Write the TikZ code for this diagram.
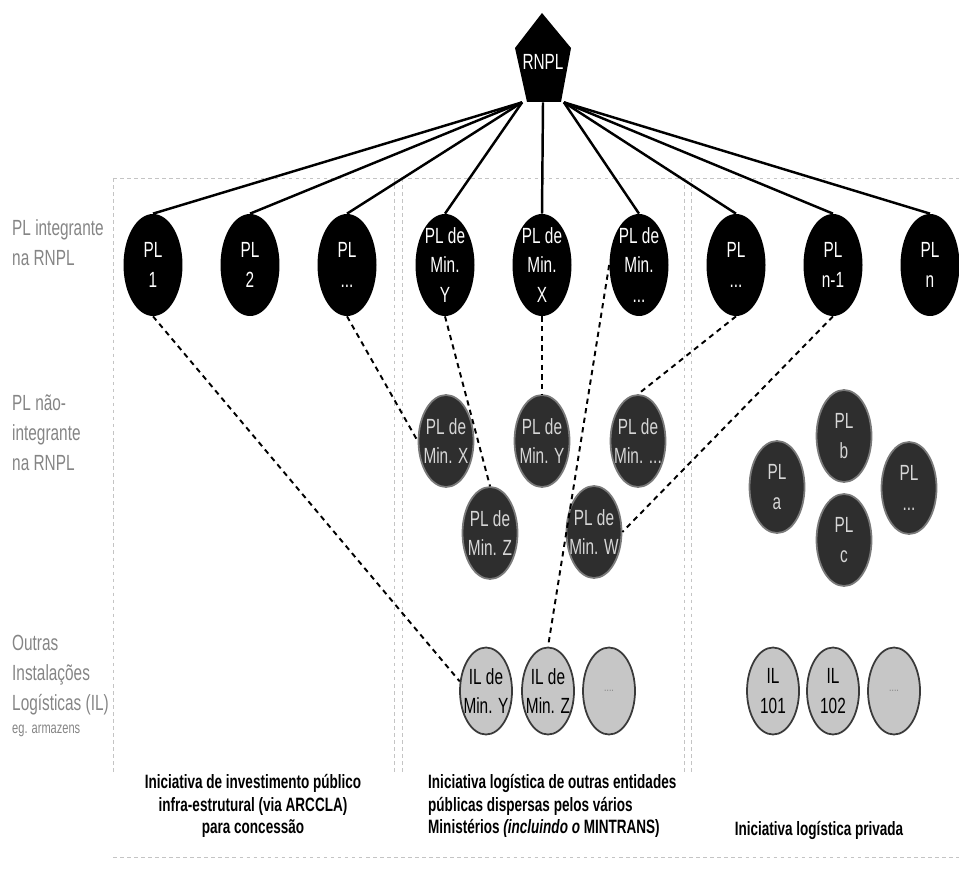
\documentclass[tikz,border=0pt]{standalone}
\usepackage{fontspec}
\setmainfont{Liberation Sans}[FakeStretch=0.7]
\usetikzlibrary{shapes.geometric,positioning}

\definecolor{labelgrey}{HTML}{858585}
\definecolor{framegrey}{HTML}{C4C4C4}
\definecolor{darkpl}{HTML}{2E2E2E}
\definecolor{darkrim}{HTML}{7A7A7A}
\definecolor{lightil}{HTML}{C6C6C6}
\definecolor{ilrim}{HTML}{3A3A3A}
\definecolor{pltext}{HTML}{D6D6D6}

\begin{document}
\begin{tikzpicture}[x=0.02cm,y=-0.02cm,
    every node/.style={align=center,font=\fontsize{12.5}{17}\selectfont},
    toppl/.style={ellipse,fill=black,inner sep=0pt,minimum width=1.18cm,minimum height=2.04cm,
      label={[text=white]center:#1}},
    midpl/.style={ellipse,fill=darkpl,draw=darkrim,line width=1pt,inner sep=0pt,
      minimum width=1.1cm,minimum height=1.84cm,label={[text=pltext]center:#1}},
    ilnode/.style={ellipse,fill=lightil,draw=ilrim,line width=1pt,inner sep=0pt,
      minimum width=1.04cm,minimum height=1.74cm,label={[text=black]center:#1}},
    sidelabel/.style={anchor=west,align=left,text=labelgrey},
    initext/.style={font=\bfseries\fontsize{11}{13}\selectfont},
    frame/.style={framegrey,dash pattern=on 2pt off 2pt,line width=0.5pt},
    spoke/.style={line width=1.4pt},
    link/.style={dash pattern=on 3pt off 2.5pt,line width=1.1pt}]
  \useasboundingbox (0,0) rectangle (959,871);

  % grelha de fundo
  \draw[frame] (113,178) -- (959,178);
  \draw[frame] (113,857) -- (959,857);
  \foreach \x in {113,394,402,684,691}
    \draw[frame] (\x,178) -- (\x,775);

  % RNPL
  \fill (542,13) -- (571,48) -- (561,102) -- (527,102) -- (515,48) -- cycle;
  \node[text=white,inner sep=0pt,minimum width=0.72cm,minimum height=1.6cm] (rnpl) at (543,62) {RNPL};

  % PL integrante na RNPL
  \foreach \x/\n/\t in {153/p1/{PL\\1},250/p2/{PL\\2},347/p3/{PL\\...},445/p4/{PL de\\Min.\\Y},
      542/p5/{PL de\\Min.\\X},639/p6/{PL de\\Min.\\...},736/p7/{PL\\...},833/p8/{PL\\n-1},930/p9/{PL\\n}}
    \node[toppl=\t] (\n) at (\x,265) {};

  \foreach \n in {p1,p2,p3,p4}
    \draw[spoke] (rnpl.south west) -- (\n.north);
  \draw[spoke] (rnpl.south) -- (p5.north);
  \foreach \n in {p6,p7,p8,p9}
    \draw[spoke] (rnpl.south east) -- (\n.north);

  % PL nao-integrante
  \node[midpl={PL de\\Min. X}] (nx) at (446,441) {};
  \node[midpl={PL de\\Min. Y}] (ny) at (542,441) {};
  \node[midpl={PL de\\Min. ...}] (nd) at (638,441) {};
  \node[midpl={PL de\\Min. Z}] (nz) at (490,533) {};
  \node[midpl={PL de\\Min. W}] (nw) at (594,532) {};
  \node[midpl={PL\\a}] (pa) at (777,487) {};
  \node[midpl={PL\\b}] (pb) at (844,436) {};
  \node[midpl={PL\\c}] (pc) at (844,540) {};
  \node[midpl={PL\\...}] (pd) at (909,488) {};

  % outras IL
  \node[ilnode={IL de\\Min. Y}] (iy) at (486,691) {};
  \node[ilnode={IL de\\Min. Z}] (iz) at (548,691) {};
  \node[ilnode={\textcolor{labelgrey}{\scriptsize ....}}] (id) at (609,691) {};
  \node[ilnode={IL\\101}] (i101) at (773,691) {};
  \node[ilnode={IL\\102}] (i102) at (833,691) {};
  \node[ilnode={\textcolor{labelgrey}{\scriptsize ....}}] (id2) at (894,691) {};

  \draw[link] (p1.south) -- (iy.160);
  \draw[link] (p3.south) -- (nx.west);
  \draw[link] (p4.south) -- (nz.north);
  \draw[link] (p5.south) -- (ny.north);
  \draw[link] (p6.west) -- (iz.north);
  \draw[link] (p7.south) -- (nd.north);
  \draw[link] (p8.south) -- (nw.east);

  % legendas
  \node[sidelabel] (lab1) at (6,243) {PL integrante\\na RNPL};
  \node[sidelabel] (lab2) at (6,433) {PL não-\\integrante\\na RNPL};
  \node[sidelabel] (lab3) at (6,675) {Outras\\Instalações\\Logísticas (IL)};
  \node[sidelabel,font=\fontsize{9}{10}\selectfont] (lab4) at (6,731) {eg. armazens};

  \node[initext] (ini1) at (253,806) {Iniciativa de investimento público\\infra-estrutural (via ARCCLA)\\para concessão};
  \node[initext,anchor=west,align=left] (ini2) at (422,806) {Iniciativa logística de outras entidades\\públicas dispersas pelos vários\\Ministérios \textit{(incluindo o} MINTRANS)};
  \node[initext] (ini3) at (819,830) {Iniciativa logística privada};
\end{tikzpicture}
\end{document}
